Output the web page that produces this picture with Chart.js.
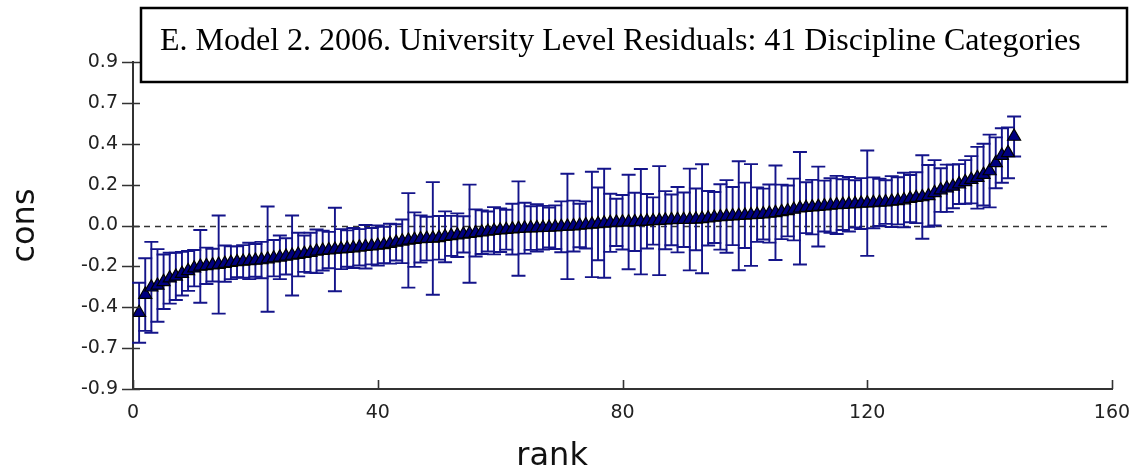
<!DOCTYPE html>
<html>
<head>
<meta charset="utf-8">
<script src="https://cdn.jsdelivr.net/npm/chart.js@4.4.1/dist/chart.umd.min.js"></script>
<style>
  html, body { margin: 0; padding: 0; background: #ffffff; }
  #wrap { width: 1140px; height: 474px; position: relative; }
</style>
</head>
<body>
<div id="wrap"><canvas id="chart" width="1140" height="474"></canvas></div>
<script>
// Caterpillar plot: university-level residuals ordered by rank, with 95% intervals
const titleText = 'E. Model 2. 2006. University Level Residuals: 41 Discipline Categories';
const xAxisTitle = 'rank';
const yAxisTitle = 'cons';

const ranks = [
  1, 2, 3, 4, 5, 6, 7, 8, 9, 10, 11, 12, 13, 14, 15, 16, 17, 18, 19, 20,
  21, 22, 23, 24, 25, 26, 27, 28, 29, 30, 31, 32, 33, 34, 35, 36, 37, 38, 39, 40,
  41, 42, 43, 44, 45, 46, 47, 48, 49, 50, 51, 52, 53, 54, 55, 56, 57, 58, 59, 60,
  61, 62, 63, 64, 65, 66, 67, 68, 69, 70, 71, 72, 73, 74, 75, 76, 77, 78, 79, 80,
  81, 82, 83, 84, 85, 86, 87, 88, 89, 90, 91, 92, 93, 94, 95, 96, 97, 98, 99, 100,
  101, 102, 103, 104, 105, 106, 107, 108, 109, 110, 111, 112, 113, 114, 115, 116, 117, 118, 119, 120,
  121, 122, 123, 124, 125, 126, 127, 128, 129, 130, 131, 132, 133, 134, 135, 136, 137, 138, 139, 140,
  141, 142, 143, 144
];

// residual estimate per university
const residuals = [
  -0.480, -0.380, -0.340, -0.330, -0.310, -0.290, -0.280, -0.265, -0.250, -0.235,
  -0.225, -0.222, -0.218, -0.215, -0.210, -0.205, -0.200, -0.198, -0.195, -0.192,
  -0.190, -0.185, -0.180, -0.175, -0.170, -0.165, -0.160, -0.155, -0.150, -0.142,
  -0.138, -0.135, -0.132, -0.130, -0.127, -0.124, -0.120, -0.117, -0.114, -0.110,
  -0.107, -0.100, -0.093, -0.087, -0.082, -0.078, -0.074, -0.072, -0.071, -0.068,
  -0.062, -0.057, -0.053, -0.049, -0.045, -0.041, -0.037, -0.033, -0.029, -0.026,
  -0.023, -0.020, -0.017, -0.015, -0.014, -0.013, -0.012, -0.011, -0.009, -0.007,
  -0.005, -0.003, 0.000, 0.003, 0.006, 0.009, 0.012, 0.015, 0.017, 0.018,
  0.019, 0.020, 0.021, 0.023, 0.025, 0.027, 0.029, 0.031, 0.032, 0.032,
  0.033, 0.034, 0.037, 0.040, 0.044, 0.047, 0.050, 0.052, 0.054, 0.056,
  0.058, 0.060, 0.063, 0.066, 0.070, 0.075, 0.080, 0.088, 0.095, 0.098,
  0.101, 0.104, 0.107, 0.110, 0.113, 0.115, 0.117, 0.119, 0.121, 0.123,
  0.125, 0.127, 0.129, 0.132, 0.136, 0.140, 0.148, 0.153, 0.157, 0.163,
  0.180, 0.195, 0.205, 0.215, 0.228, 0.240, 0.252, 0.263, 0.280, 0.300,
  0.345, 0.385, 0.400, 0.490
];

// half width of each interval
const halfWidths = [
  0.165, 0.200, 0.250, 0.200, 0.150, 0.140, 0.130, 0.120, 0.110, 0.100,
  0.200, 0.100, 0.090, 0.270, 0.100, 0.090, 0.085, 0.090, 0.100, 0.090,
  0.100, 0.290, 0.100, 0.120, 0.100, 0.220, 0.120, 0.100, 0.110, 0.120,
  0.110, 0.100, 0.230, 0.110, 0.100, 0.110, 0.100, 0.120, 0.100, 0.110,
  0.100, 0.110, 0.100, 0.120, 0.260, 0.150, 0.130, 0.120, 0.310, 0.120,
  0.140, 0.110, 0.120, 0.100, 0.270, 0.130, 0.120, 0.110, 0.130, 0.120,
  0.110, 0.140, 0.260, 0.140, 0.120, 0.130, 0.120, 0.110, 0.120, 0.140,
  0.290, 0.140, 0.120, 0.130, 0.290, 0.200, 0.300, 0.160, 0.130, 0.150,
  0.260, 0.160, 0.290, 0.150, 0.130, 0.300, 0.160, 0.140, 0.180, 0.150,
  0.280, 0.170, 0.300, 0.150, 0.140, 0.180, 0.200, 0.160, 0.300, 0.180,
  0.280, 0.150, 0.140, 0.160, 0.260, 0.150, 0.140, 0.170, 0.310, 0.140,
  0.150, 0.220, 0.140, 0.150, 0.160, 0.140, 0.150, 0.130, 0.140, 0.290,
  0.140, 0.130, 0.120, 0.140, 0.130, 0.150, 0.130, 0.140, 0.230, 0.170,
  0.180, 0.120, 0.130, 0.120, 0.110, 0.120, 0.130, 0.170, 0.170, 0.200,
  0.140, 0.150, 0.140, 0.110
];

const xTickValues = [0, 40, 80, 120, 160];
const xTickLabels = ['0', '40', '80', '120', '160'];
const yTickValues = [-0.9, -0.675, -0.45, -0.225, 0, 0.225, 0.45, 0.675, 0.9];
const yTickLabels = ['-0.9', '-0.7', '-0.4', '-0.2', '0.0', '0.2', '0.4', '0.7', '0.9'];

const axisColor = '#333333';
const barColor = '#14148a';

// dashed reference line at zero
const zeroLine = {
  id: 'zeroLine',
  beforeDatasetsDraw(chart) {
    const { ctx, chartArea, scales: { y } } = chart;
    const py = Math.round(y.getPixelForValue(0)) + 0.5;
    ctx.save();
    ctx.strokeStyle = '#333333';
    ctx.lineWidth = 1.6;
    ctx.setLineDash([6, 5]);
    ctx.beginPath();
    ctx.moveTo(chartArea.left, py);
    ctx.lineTo(chartArea.right, py);
    ctx.stroke();
    ctx.restore();
  }
};

// vertical interval bars with caps
const errorBars = {
  id: 'errorBars',
  beforeDatasetsDraw(chart) {
    const { ctx, scales: { x, y } } = chart;
    const cap = 7;
    ctx.save();
    ctx.strokeStyle = barColor;
    ctx.lineWidth = 1.9;
    ranks.forEach((r, i) => {
      const px = x.getPixelForValue(r);
      const top = y.getPixelForValue(residuals[i] + halfWidths[i]);
      const bot = y.getPixelForValue(residuals[i] - halfWidths[i]);
      ctx.beginPath();
      ctx.moveTo(px, top); ctx.lineTo(px, bot);
      ctx.moveTo(px - cap, top); ctx.lineTo(px + cap, top);
      ctx.moveTo(px - cap, bot); ctx.lineTo(px + cap, bot);
      ctx.stroke();
    });
    ctx.restore();
  }
};

// tick marks (y ticks cross the axis, x ticks point into the plot) and the x axis title
const axisDecor = {
  id: 'axisDecor',
  afterDraw(chart) {
    const { ctx, chartArea, scales: { x, y } } = chart;
    ctx.save();
    ctx.strokeStyle = axisColor;
    ctx.lineWidth = 1.6;
    ctx.beginPath();
    y.ticks.forEach(t => {
      const py = Math.round(y.getPixelForValue(t.value)) + 0.5;
      ctx.moveTo(chartArea.left - 11, py);
      ctx.lineTo(chartArea.left + 7, py);
    });
    x.ticks.forEach(t => {
      const px = Math.round(x.getPixelForValue(t.value)) + 0.5;
      ctx.moveTo(px, chartArea.bottom);
      ctx.lineTo(px, chartArea.bottom - 9);
    });
    ctx.stroke();
    ctx.fillStyle = '#111111';
    ctx.font = '32px "DejaVu Sans", sans-serif';
    ctx.textAlign = 'center';
    ctx.textBaseline = 'alphabetic';
    ctx.fillText(xAxisTitle, x.getPixelForValue(68.5), 465);
    ctx.restore();
  }
};

// boxed heading laid over the top of the plot
const boxedTitle = {
  id: 'boxedTitle',
  afterDraw(chart) {
    const { ctx } = chart;
    const left = 141, top = 8, width = 986, height = 74;
    ctx.save();
    ctx.fillStyle = '#ffffff';
    ctx.fillRect(left, top, width, height);
    ctx.strokeStyle = '#000000';
    ctx.lineWidth = 2.5;
    ctx.strokeRect(left, top, width, height);
    ctx.fillStyle = '#000000';
    ctx.font = '32px "Liberation Serif", "Times New Roman", serif';
    ctx.textAlign = 'left';
    ctx.textBaseline = 'alphabetic';
    ctx.fillText(titleText, 160, 50);
    ctx.restore();
  }
};

new Chart(document.getElementById('chart'), {
  type: 'scatter',
  data: {
    datasets: [{
      data: ranks.map((r, i) => ({ x: r, y: residuals[i] })),
      pointStyle: 'triangle',
      pointRadius: 7.5,
      pointHoverRadius: 7.5,
      backgroundColor: '#000080',
      borderColor: '#000000',
      borderWidth: 1.2,
      showLine: false
    }]
  },
  options: {
    responsive: false,
    animation: false,
    devicePixelRatio: 1,
    layout: { padding: { left: 0, top: 62, right: 28, bottom: 0 } },
    plugins: {
      legend: { display: false },
      tooltip: { enabled: false },
      title: { display: false }
    },
    scales: {
      x: {
        type: 'linear',
        min: 0,
        max: 160,
        afterBuildTicks: s => { s.ticks = xTickValues.map(v => ({ value: v })); },
        afterFit: s => { s.height = 85; s.paddingRight = 0; s.paddingLeft = 0; },
        grid: { display: false, drawTicks: false },
        border: { display: true, color: axisColor, width: 2 },
        ticks: {
          autoSkip: false,
          maxRotation: 0,
          padding: 13,
          color: '#222222',
          font: { family: '"DejaVu Sans", sans-serif', size: 19 },
          callback: v => xTickLabels[xTickValues.indexOf(v)]
        },
        title: { display: false }
      },
      y: {
        type: 'linear',
        min: -0.9,
        max: 0.9,
        afterBuildTicks: s => { s.ticks = yTickValues.map(v => ({ value: v })); },
        afterFit: s => { s.width = 133; },
        grid: { display: false, drawTicks: false },
        border: { display: true, color: axisColor, width: 2 },
        ticks: {
          padding: 15,
          color: '#222222',
          font: { family: '"DejaVu Sans", sans-serif', size: 19 },
          callback: (v, idx) => yTickLabels[idx]
        },
        title: {
          display: true,
          text: yAxisTitle,
          color: '#111111',
          font: { family: '"DejaVu Sans", sans-serif', size: 32, lineHeight: 1.2 },
          padding: { top: 6, bottom: 0 }
        }
      }
    }
  },
  plugins: [zeroLine, errorBars, axisDecor, boxedTitle]
});
</script>
</body>
</html>
